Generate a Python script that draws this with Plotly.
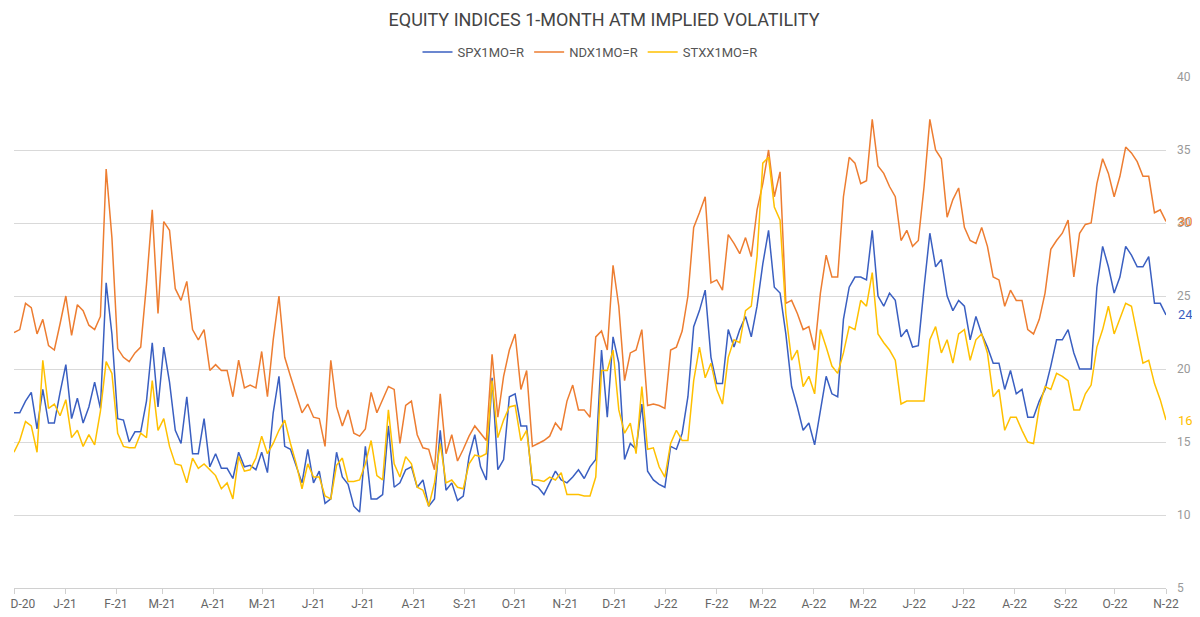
import pandas as pd
import plotly.graph_objects as go

# values, one every ~3.5 days from Dec-20 to Nov-22
spx = [17.0, 17.0, 17.8, 18.4, 15.9, 18.6, 16.3, 16.3, 18.4, 20.3, 16.6, 18.0, 16.3, 17.4, 19.1, 17.3,
       25.9, 22.4, 16.6, 16.5, 15.0, 15.7, 15.7, 17.8, 21.8, 17.4, 21.5, 19.1, 15.8, 14.9, 18.1, 14.2, 14.2,
       16.6, 13.3, 14.2, 13.2, 13.2, 12.5, 14.3, 13.3, 13.4, 13.1, 14.3, 12.9, 17.0, 19.5, 14.7, 14.5, 13.3,
       12.2, 14.5, 12.2, 13.0, 10.8, 11.1, 14.3, 12.6, 12.1, 10.6, 10.2, 14.7, 11.1, 11.1, 11.4, 16.1,
       11.9, 12.2, 13.1, 13.3, 11.9, 12.4, 10.6, 11.1, 15.8, 11.7, 12.2, 11.0, 11.3, 14.0, 15.5, 13.3, 12.4,
       19.4, 13.1, 13.8, 18.1, 18.3, 16.1, 16.1, 12.1, 11.9, 11.4, 12.2, 13.0, 12.4, 12.2, 12.6, 13.1,
       12.5, 13.3, 13.8, 21.3, 16.7, 22.2, 20.4, 13.8, 14.9, 14.5, 17.6, 13.0, 12.4, 12.1, 11.9, 14.7, 14.5,
       15.6, 18.1, 22.9, 24.0, 25.4, 20.8, 19.0, 19.0, 22.7, 21.5, 22.7, 23.6, 22.2, 24.3, 27.2, 29.5,
       25.6, 25.2, 22.4, 18.8, 17.4, 15.8, 16.3, 14.8, 17.2, 19.5, 18.3, 18.1, 23.4, 25.6, 26.3, 26.3, 26.1,
       29.5, 25.0, 24.3, 25.2, 24.7, 22.2, 22.7, 21.5, 21.6, 25.6, 29.3, 27.0, 27.5, 25.0, 24.0, 24.7,
       24.3, 22.0, 23.6, 22.4, 21.5, 20.4, 20.4, 18.6, 19.9, 18.3, 18.6, 16.7, 16.7, 17.8, 18.6, 20.2, 22.0,
       22.0, 22.7, 21.1, 20.0, 20.0, 20.0, 25.6, 28.4, 27.0, 25.2, 26.3, 28.4, 27.8, 27.0, 27.0, 27.7,
       24.5, 24.5, 23.7]

ndx = [22.5, 22.7, 24.5, 24.2, 22.4, 23.4, 21.6, 21.3, 23.1, 25.0, 22.3, 24.4, 24.0, 23.0, 22.7, 23.6,
       33.7, 29.0, 21.4, 20.8, 20.5, 21.1, 21.5, 25.8, 30.9, 23.8, 30.1, 29.5, 25.5, 24.7, 26.0, 22.7, 22.0,
       22.7, 19.9, 20.3, 19.9, 19.9, 18.1, 20.6, 18.7, 18.9, 18.7, 21.2, 18.1, 22.0, 25.0, 20.8, 19.5, 18.3,
       17.0, 17.6, 16.7, 16.6, 14.7, 20.6, 17.4, 16.1, 17.2, 15.6, 15.4, 15.9, 18.4, 17.0, 17.9, 18.8,
       18.6, 14.9, 17.5, 17.8, 15.5, 14.6, 14.5, 13.1, 18.3, 14.2, 15.5, 13.7, 14.5, 15.4, 16.1, 15.6, 15.1,
       21.0, 16.7, 19.5, 21.3, 22.4, 18.6, 19.9, 14.7, 14.9, 15.1, 15.4, 16.3, 15.8, 17.8, 18.9, 17.2,
       17.2, 16.7, 22.2, 22.6, 21.3, 27.1, 24.3, 19.2, 21.1, 21.3, 22.7, 17.5, 17.6, 17.5, 17.3, 21.3, 21.5,
       22.6, 25.0, 29.7, 30.7, 31.8, 25.9, 26.1, 25.4, 29.2, 28.6, 27.9, 29.0, 27.7, 30.9, 32.7, 35.0,
       31.8, 33.5, 24.5, 24.7, 23.8, 22.7, 22.9, 21.3, 25.2, 27.8, 26.3, 26.3, 31.8, 34.5, 34.1, 32.7, 32.9,
       37.1, 33.9, 33.4, 32.5, 31.8, 28.8, 29.5, 28.4, 28.8, 32.5, 37.1, 35.0, 34.4, 30.4, 31.6, 32.4,
       29.7, 28.8, 28.6, 29.7, 28.4, 26.3, 26.1, 24.3, 25.4, 24.7, 24.7, 22.7, 22.4, 23.4, 25.2, 28.2, 28.8,
       29.3, 30.2, 26.3, 29.3, 29.9, 30.0, 32.7, 34.4, 33.4, 31.8, 33.2, 35.2, 34.8, 34.2, 33.2, 33.2,
       30.7, 30.9, 30.1]

stxx = [14.3, 15.1, 16.4, 16.1, 14.3, 20.6, 17.3, 17.6, 16.8, 17.9, 15.3, 15.8, 14.7, 15.5, 14.8, 17.1,
        20.5, 19.7, 15.6, 14.7, 14.6, 14.6, 15.6, 15.3, 19.2, 15.8, 16.6, 14.7, 13.5, 13.4, 12.2, 13.9, 13.2,
        13.5, 13.1, 12.7, 11.8, 12.2, 11.1, 14.0, 13.0, 13.1, 13.9, 15.4, 14.2, 14.9, 15.8, 16.5, 14.9, 13.5,
        11.8, 13.5, 12.6, 12.6, 11.3, 11.1, 13.4, 13.9, 12.3, 12.3, 12.4, 13.5, 15.1, 12.7, 12.4, 17.2,
        13.5, 12.6, 14.0, 13.5, 11.9, 11.7, 10.6, 12.2, 14.9, 12.2, 12.4, 11.9, 11.8, 13.5, 14.1, 14.0, 14.2,
        19.2, 15.3, 16.5, 17.4, 17.5, 15.1, 15.8, 12.4, 12.4, 12.3, 12.6, 12.4, 12.9, 11.4, 11.4, 11.4,
        11.3, 11.3, 12.6, 19.9, 19.9, 21.3, 17.2, 15.6, 16.3, 14.2, 18.8, 14.5, 14.6, 13.3, 12.6, 14.9, 15.8,
        15.1, 15.1, 19.2, 21.5, 19.4, 20.4, 18.6, 17.6, 20.8, 22.0, 21.8, 24.0, 24.3, 27.7, 34.1, 34.5,
        31.1, 30.2, 23.8, 20.6, 21.3, 18.8, 19.5, 18.3, 22.7, 21.5, 20.2, 19.7, 21.1, 22.9, 22.7, 24.7, 24.3,
        26.6, 22.4, 21.8, 21.3, 20.6, 17.6, 17.8, 17.8, 17.8, 17.8, 22.0, 22.9, 21.1, 22.0, 20.4, 22.4,
        22.7, 20.6, 22.0, 22.4, 21.1, 18.1, 18.6, 15.8, 16.7, 16.7, 15.8, 15.0, 14.9, 17.4, 18.8, 18.6, 19.7,
        19.5, 19.2, 17.2, 17.2, 18.3, 18.9, 21.5, 22.7, 24.3, 22.4, 23.4, 24.5, 24.3, 22.4, 20.4, 20.6,
        19.0, 17.9, 16.5]

names = ["SPX1MO=R", "NDX1MO=R", "STXX1MO=R"]
colors = ["#3a5fc1", "#ed7d31", "#ffc000"]
tick_text = ["D-20", "J-21", "F-21", "M-21", "A-21", "M-21", "J-21", "J-21", "A-21", "S-21", "O-21", "N-21",
             "D-21", "J-22", "F-22", "M-22", "A-22", "M-22", "J-22", "J-22", "A-22", "S-22", "O-22", "N-22"]

dates = pd.date_range("2020-12-01", "2022-11-01", periods=len(spx))
tick_vals = pd.date_range("2020-12-01", "2022-11-01", freq="MS")

# first label sits on the left edge: pad it so it is not cut off
labels = list(tick_text)
labels[0] = "\u00a0" * 6 + labels[0]

fig = go.Figure()
for name, vals, col in zip(names, [spx, ndx, stxx], colors):
    fig.add_trace(go.Scatter(x=dates, y=vals, mode="lines", name=name,
                             line=dict(color=col, width=1.5)))
    fig.add_annotation(x=1, xref="paper", xanchor="left", xshift=10, y=vals[-1], yref="y",
                       text=str(round(vals[-1])), showarrow=False,
                       font=dict(color=col, size=13))

# page has an 8px body margin, so the figure is sized to fit the window
fig.update_layout(
    width=1192, height=609,
    paper_bgcolor="white", plot_bgcolor="white",
    font=dict(family="Roboto", color="#666"),
    title=dict(text="EQUITY INDICES 1-MONTH ATM IMPLIED VOLATILITY", x=0.5, xanchor="center",
               y=0.980, yanchor="middle", font=dict(size=18, color="#444")),
    legend=dict(orientation="h", x=0.5, xanchor="center", y=1.049, yanchor="middle",
                font=dict(size=13, color="#555"), itemwidth=30),
    margin=dict(l=6, r=34, t=69, b=29),
    showlegend=True,
)
fig.update_xaxes(range=["2020-12-01", "2022-11-01"], tickvals=tick_vals, ticktext=labels,
                 showgrid=False, showline=True, linecolor="#d0d0d0", ticks="outside",
                 tickcolor="#d0d0d0", ticklen=5, tickfont=dict(size=12, color="#666"),
                 automargin=False, ticklabeloverflow="allow")
fig.update_yaxes(range=[5, 40], dtick=5, side="right", showgrid=True, gridcolor="#d9d9d9",
                 zeroline=False, tickfont=dict(size=12, color="#999"), ticklabelstandoff=10,
                 automargin=False)

fig.write_html("out.html")
